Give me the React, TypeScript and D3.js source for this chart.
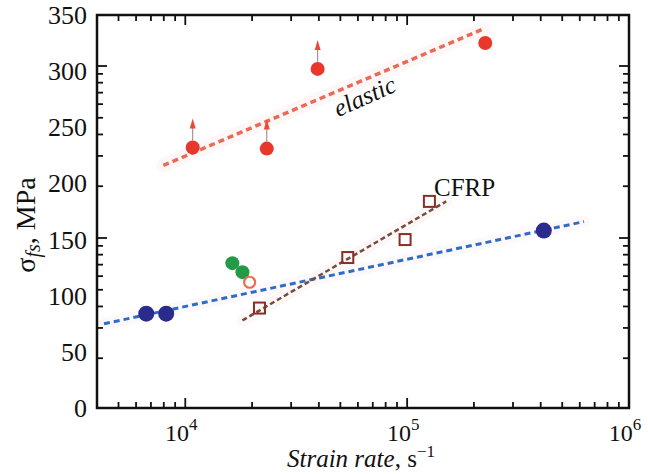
import React from "react";
import * as d3 from "d3";

// ---- data ----
const elasticRate = [10800, 23300, 39500, 225000];
const elasticStress = [232, 231, 302, 325];
const elasticLowerBound = [true, true, true, false];
const elasticFitRate = [7960, 223000];
const elasticFitStress = [216, 338];

const blueRate = [6670, 8200, 413000];
const blueStress = [84, 84, 158];
const blueFitRate = [4300, 627000];
const blueFitStress = [75, 166];

const cfrpRate = [21600, 54000, 97900, 126000];
const cfrpStress = [89, 134, 150, 184];
const cfrpFitRate = [18100, 150000];
const cfrpFitStress = [78, 184];

const greenRate = [16300, 18100];
const greenStress = [129, 121];
const openRate = [19500];
const openStress = [112];

const yTickLabels = [0, 50, 100, 150, 200, 250, 300, 350];
const xTickExponents = [4, 5, 6];
const xDomain = [4000, 1e6];
const yDomain = [0, 350];

const W = 648, H = 474;
const M = { left: 97, right: 19, top: 15, bottom: 66 };

export default function App() {
  const x = d3.scaleLog().domain(xDomain).range([M.left, W - M.right]);
  const y = d3.scaleLinear().domain(yDomain).range([H - M.bottom, M.top]);
  // secondary log-style tick scale as drawn on the vertical frame of the original
  const yT = d3.scaleLog().domain([1, 100]).range([H - M.bottom + 2, 66]);

  const x0 = M.left, x1 = W - M.right, y0 = H - M.bottom, y1 = M.top;
  const xTicks = x.ticks().filter((v) => v >= xDomain[0] && v <= xDomain[1]);
  const yTicks = yT.ticks().filter((v) => yT(v) <= y0 && yT(v) >= y1);
  const isMajorX = (v: number) => Math.abs(Math.log10(v) - Math.round(Math.log10(v))) < 1e-9;
  const isMajorY = (v: number) => v === 10 || v === 100;

  const line = d3.line<[number, number]>().x((d) => x(d[0])).y((d) => y(d[1]));
  const fit = (r: number[], s: number[]) => line(r.map((v, i) => [v, s[i]] as [number, number])) || "";

  const serif = "'Liberation Serif', 'Times New Roman', serif";

  return (
    <svg width={W} height={H} style={{ position: "absolute", left: 0, top: 0, background: "#fff" }} fontFamily={serif}>
      {/* soft halos */}
      <g fill="none" strokeLinecap="round" opacity={0.16}>
        <path d={fit(elasticFitRate, elasticFitStress)} stroke="#f6cfcf" strokeWidth={14} />
        <path d={fit(blueFitRate, blueFitStress)} stroke="#f6d6e0" strokeWidth={12} />
        <path d={fit(cfrpFitRate, cfrpFitStress)} stroke="#f6d6d6" strokeWidth={12} />
      </g>
      {/* fit lines */}
      <path d={fit(elasticFitRate, elasticFitStress)} fill="none" stroke="#ea6a58" strokeWidth={3.5} strokeDasharray="6 4" />
      <path d={fit(blueFitRate, blueFitStress)} fill="none" stroke="#2f6cc8" strokeWidth={3} strokeDasharray="6 4" />
      <path d={fit(cfrpFitRate, cfrpFitStress)} fill="none" stroke="#7b4a3c" strokeWidth={2.5} strokeDasharray="5 3" />

      {/* elastic points with lower-bound arrows */}
      {elasticRate.map((r, i) => {
        const cx = x(r), cy = y(elasticStress[i]);
        return (
          <g key={"e" + i}>
            {elasticLowerBound[i] && (
              <g>
                <line x1={cx} x2={cx} y1={cy - 7} y2={cy - 20} stroke="#9a7c8a" strokeWidth={1} />
                <path d={`M${cx},${cy - 29} L${cx - 3},${cy - 19} L${cx + 3},${cy - 19} Z`} fill="#ea4a3a" />
              </g>
            )}
            <circle cx={cx} cy={cy} r={7} fill="#e8382c" />
          </g>
        );
      })}

      {/* blue points */}
      {blueRate.map((r, i) => (
        <circle key={"b" + i} cx={x(r)} cy={y(blueStress[i])} r={8} fill="#2b2b8e" />
      ))}

      {/* CFRP squares */}
      {cfrpRate.map((r, i) => (
        <rect key={"c" + i} x={x(r) - 5.5} y={y(cfrpStress[i]) - 5.5} width={11} height={11} fill="none" stroke="#8a2e24" strokeWidth={2} />
      ))}

      {/* green points */}
      {greenRate.map((r, i) => (
        <circle key={"g" + i} cx={x(r)} cy={y(greenStress[i])} r={7} fill="#239a48" />
      ))}
      {/* open circle */}
      {openRate.map((r, i) => (
        <circle key={"o" + i} cx={x(r)} cy={y(openStress[i])} r={5.5} fill="#fff" stroke="#ea6e56" strokeWidth={2.2} />
      ))}

      {/* annotations */}
      <text
        x={368}
        y={104}
        fontSize={25}
        fontStyle="italic"
        textAnchor="middle"
        transform="rotate(-24 368 104)"
        fill="#111"
      >
        elastic
      </text>
      <text x={434} y={196} fontSize={25} fill="#111">CFRP</text>

      {/* frame */}
      <rect x={x0} y={y1} width={x1 - x0} height={y0 - y1} fill="none" stroke="#111" strokeWidth={2.5} />

      {/* x ticks (bottom and top, inward) */}
      {xTicks.map((v, i) => {
        const len = isMajorX(v) ? 10 : 6;
        const px = x(v);
        return (
          <g key={"xt" + i} stroke="#111" strokeWidth={1.8}>
            <line x1={px} x2={px} y1={y0} y2={y0 - len} />
            <line x1={px} x2={px} y1={y1} y2={y1 + len} />
          </g>
        );
      })}
      {/* y ticks (left and right, inward) */}
      {yTicks.map((v, i) => {
        const len = isMajorY(v) ? 10 : 6;
        const py = yT(v);
        return (
          <g key={"yt" + i} stroke="#111" strokeWidth={1.8}>
            <line x1={x0} x2={x0 + len} y1={py} y2={py} />
            <line x1={x1} x2={x1 - len} y1={py} y2={py} />
          </g>
        );
      })}

      {/* y tick labels */}
      {yTickLabels.map((v) => (
        <text key={"yl" + v} x={87} y={y(v) + 9} fontSize={26} textAnchor="end" fill="#111">
          {v}
        </text>
      ))}
      {/* x tick labels */}
      {xTickExponents.map((e) => (
        <text key={"xl" + e} x={x(Math.pow(10, e)) - 4} y={441} fontSize={24} textAnchor="middle" fill="#111">
          10
          <tspan fontSize={17} dy={-11}>{e}</tspan>
        </text>
      ))}

      {/* axis titles */}
      <text x={361} y={467} fontSize={25} textAnchor="middle" fill="#111">
        <tspan fontStyle="italic">Strain rate</tspan>
        <tspan>, s</tspan>
        <tspan fontSize={17} dy={-10}>−1</tspan>
      </text>
      <text transform="translate(35,225) rotate(-90)" fontSize={28} textAnchor="middle" fill="#111">
        <tspan>σ</tspan>
        <tspan fontStyle="italic" fontSize={20} dy={5}>fs</tspan>
        <tspan dy={-5}>, MPa</tspan>
      </text>
    </svg>
  );
}
